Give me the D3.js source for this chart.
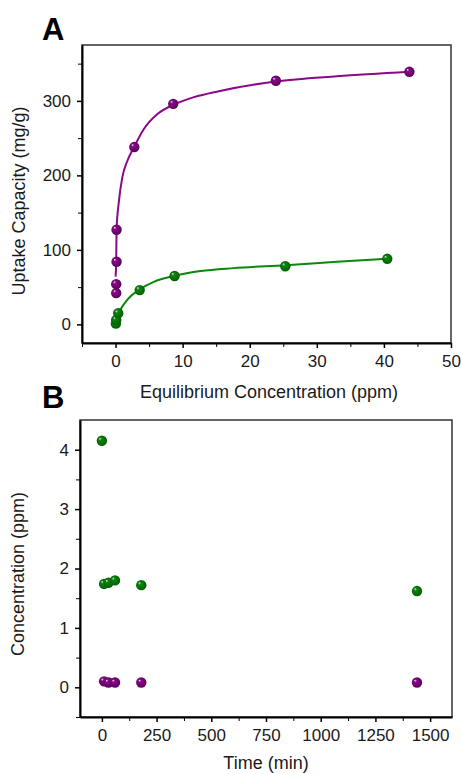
<!DOCTYPE html>
<html>
<head>
<meta charset="utf-8">
<script src="https://cdn.jsdelivr.net/npm/d3@7"></script>
<style>
  body { margin: 0; background: #fff; }
  text { font-family: "Liberation Sans", Arial, sans-serif; }
</style>
</head>
<body>
<div id="chart"></div>
<script>
// Panel A: isotherm points (ppm, mg/g)
var purplePointsX = [0.1, 0.1, 0.15, 0.15, 2.8, 8.6, 23.9, 43.8];
var purplePointsY = [42, 54, 84, 127, 238, 296, 327, 339];
var greenPointsX = [0.05, 0.1, 0.4, 3.6, 8.8, 25.3, 40.5];
var greenPointsY = [1, 6, 15, 46, 65, 78, 88];

// fitted curves
var purpleCurveX = [0, 0.1, 0.15, 0.5, 1.0, 1.74, 2.7, 4.2, 6.2, 8.7, 11.7, 15.4, 23.9, 33, 43.8];
var purpleCurveY = [64, 85, 127, 165, 197, 219, 237, 262, 282, 295, 305, 313, 326, 333, 339];
var greenCurveX = [0, 0.75, 1.74, 3.6, 5.7, 8.8, 12.7, 17.6, 25.3, 33, 40.5];
var greenCurveY = [4, 20, 33, 47, 57, 65, 71.5, 75.5, 79.5, 84, 88];

// Panel B: concentration vs time (min, ppm)
var greenTime = [0, 10, 30, 60, 180, 1440];
var greenConc = [4.15, 1.74, 1.76, 1.80, 1.72, 1.62];
var purpleTime = [10, 30, 60, 180, 1440];
var purpleConc = [0.10, 0.08, 0.08, 0.08, 0.08];

var xTicksA = [0, 10, 20, 30, 40, 50];
var yTicksA = [0, 100, 200, 300];
var xTicksB = [0, 250, 500, 750, 1000, 1250, 1500];
var yTicksB = [0, 1, 2, 3, 4];

var purple = "#880a88";
var green = "#0b870b";

var svg = d3.select("#chart").append("svg")
    .attr("width", 461)
    .attr("height", 774);

// sphere-like marker gradients
var defs = svg.append("defs");
function sphere(id, color, dark) {
    var g = defs.append("radialGradient")
        .attr("id", id)
        .attr("cx", "50%").attr("cy", "50%").attr("r", "55%")
        .attr("fx", "30%").attr("fy", "28%");
    g.append("stop").attr("offset", "0%").attr("stop-color", "#f4e6f0");
    g.append("stop").attr("offset", "25%").attr("stop-color", color);
    g.append("stop").attr("offset", "100%").attr("stop-color", dark);
}
sphere("ballPurple", purple, "#5a005a");
sphere("ballGreen", green, "#045a04");

function panel(opts) {
    var x = d3.scaleLinear().domain(opts.xDomain).range([opts.left, opts.right]);
    var y = d3.scaleLinear().domain(opts.yDomain).range([opts.bottom, opts.top]);
    var g = svg.append("g");

    // frame
    g.append("rect")
        .attr("x", opts.left).attr("y", opts.top)
        .attr("width", opts.right - opts.left)
        .attr("height", opts.bottom - opts.top)
        .attr("fill", "none")
        .attr("stroke", "#333")
        .attr("stroke-width", 1.5);

    // minor ticks
    g.append("g")
        .attr("transform", "translate(0," + opts.bottom + ")")
        .call(d3.axisBottom(x).tickValues(opts.xMinor).tickSize(4).tickFormat(""))
        .call(function (a) { a.select(".domain").remove(); });
    g.append("g")
        .attr("transform", "translate(" + opts.left + ",0)")
        .call(d3.axisLeft(y).tickValues(opts.yMinor).tickSize(4).tickFormat(""))
        .call(function (a) { a.select(".domain").remove(); });

    // major ticks
    var xa = g.append("g")
        .attr("transform", "translate(0," + opts.bottom + ")")
        .call(d3.axisBottom(x).tickValues(opts.xTicks).tickFormat(d3.format("d"))
            .tickSize(5).tickPadding(7).tickSizeOuter(0));
    var ya = g.append("g")
        .attr("transform", "translate(" + opts.left + ",0)")
        .call(d3.axisLeft(y).tickValues(opts.yTicks).tickFormat(d3.format("d"))
            .tickSize(5).tickPadding(6).tickSizeOuter(0));
    [xa, ya].forEach(function (a) {
        a.select(".domain").attr("stroke", "#000").attr("stroke-width", 2);
        a.selectAll(".tick line").attr("stroke-width", 1.5);
        a.selectAll(".tick text").style("font-size", "17px").attr("fill", "#1a1a1a");
    });

    // axis titles
    g.append("text")
        .attr("x", opts.xTitleX).attr("y", opts.xTitleY)
        .attr("text-anchor", "middle")
        .style("font-size", "18px")
        .attr("fill", "#1a1a1a")
        .text(opts.xTitle);
    g.append("text")
        .attr("transform", "translate(" + opts.yTitleX + "," + opts.yTitleY + ") rotate(-90)")
        .attr("text-anchor", "middle")
        .style("font-size", "18px")
        .attr("fill", "#1a1a1a")
        .text(opts.yTitle);

    // panel letter
    g.append("text")
        .attr("x", 42).attr("y", opts.letterY)
        .style("font-size", "31px")
        .style("font-weight", "bold")
        .text(opts.letter);

    return { x: x, y: y, g: g };
}

function drawCurve(p, xs, ys, color) {
    var pts = xs.map(function (d, i) { return [d, ys[i]]; });
    p.g.append("path")
        .datum(pts)
        .attr("fill", "none")
        .attr("stroke", color)
        .attr("stroke-width", 2)
        .attr("d", d3.line()
            .x(function (d) { return p.x(d[0]); })
            .y(function (d) { return p.y(d[1]); })
            .curve(d3.curveMonotoneX));
}

function drawPoints(p, xs, ys, fill) {
    var pts = xs.map(function (d, i) { return [d, ys[i]]; });
    p.g.append("g").selectAll("circle")
        .data(pts)
        .enter()
        .append("circle")
        .attr("cx", function (d) { return p.x(d[0]); })
        .attr("cy", function (d) { return p.y(d[1]); })
        .attr("r", 5.2)
        .attr("fill", "url(#" + fill + ")");
}

// Panel A
var pA = panel({
    left: 82, right: 451, top: 45, bottom: 343,
    xDomain: [-5, 50], yDomain: [-25, 375],
    xTicks: xTicksA, yTicks: yTicksA,
    xMinor: [-5, 5, 15, 25, 35, 45], yMinor: [50, 150, 250, 350],
    xTitle: "Equilibrium Concentration (ppm)", xTitleX: 269, xTitleY: 398,
    yTitle: "Uptake Capacity (mg/g)", yTitleX: 25, yTitleY: 201,
    letter: "A", letterY: 40
});
drawCurve(pA, purpleCurveX, purpleCurveY, purple);
drawCurve(pA, greenCurveX, greenCurveY, green);
drawPoints(pA, purplePointsX, purplePointsY, "ballPurple");
drawPoints(pA, greenPointsX, greenPointsY, "ballGreen");

// Panel B
var pB = panel({
    left: 80, right: 452, top: 420, bottom: 717,
    xDomain: [-100, 1600], yDomain: [-0.5, 4.5],
    xTicks: xTicksB, yTicks: yTicksB,
    xMinor: [125, 375, 625, 875, 1125, 1375], yMinor: [-0.5, 0.5, 1.5, 2.5, 3.5],
    xTitle: "Time (min)", xTitleX: 266, xTitleY: 769,
    yTitle: "Concentration (ppm)", yTitleX: 24, yTitleY: 574,
    letter: "B", letterY: 408
});
drawPoints(pB, greenTime, greenConc, "ballGreen");
drawPoints(pB, purpleTime, purpleConc, "ballPurple");
</script>
</body>
</html>
